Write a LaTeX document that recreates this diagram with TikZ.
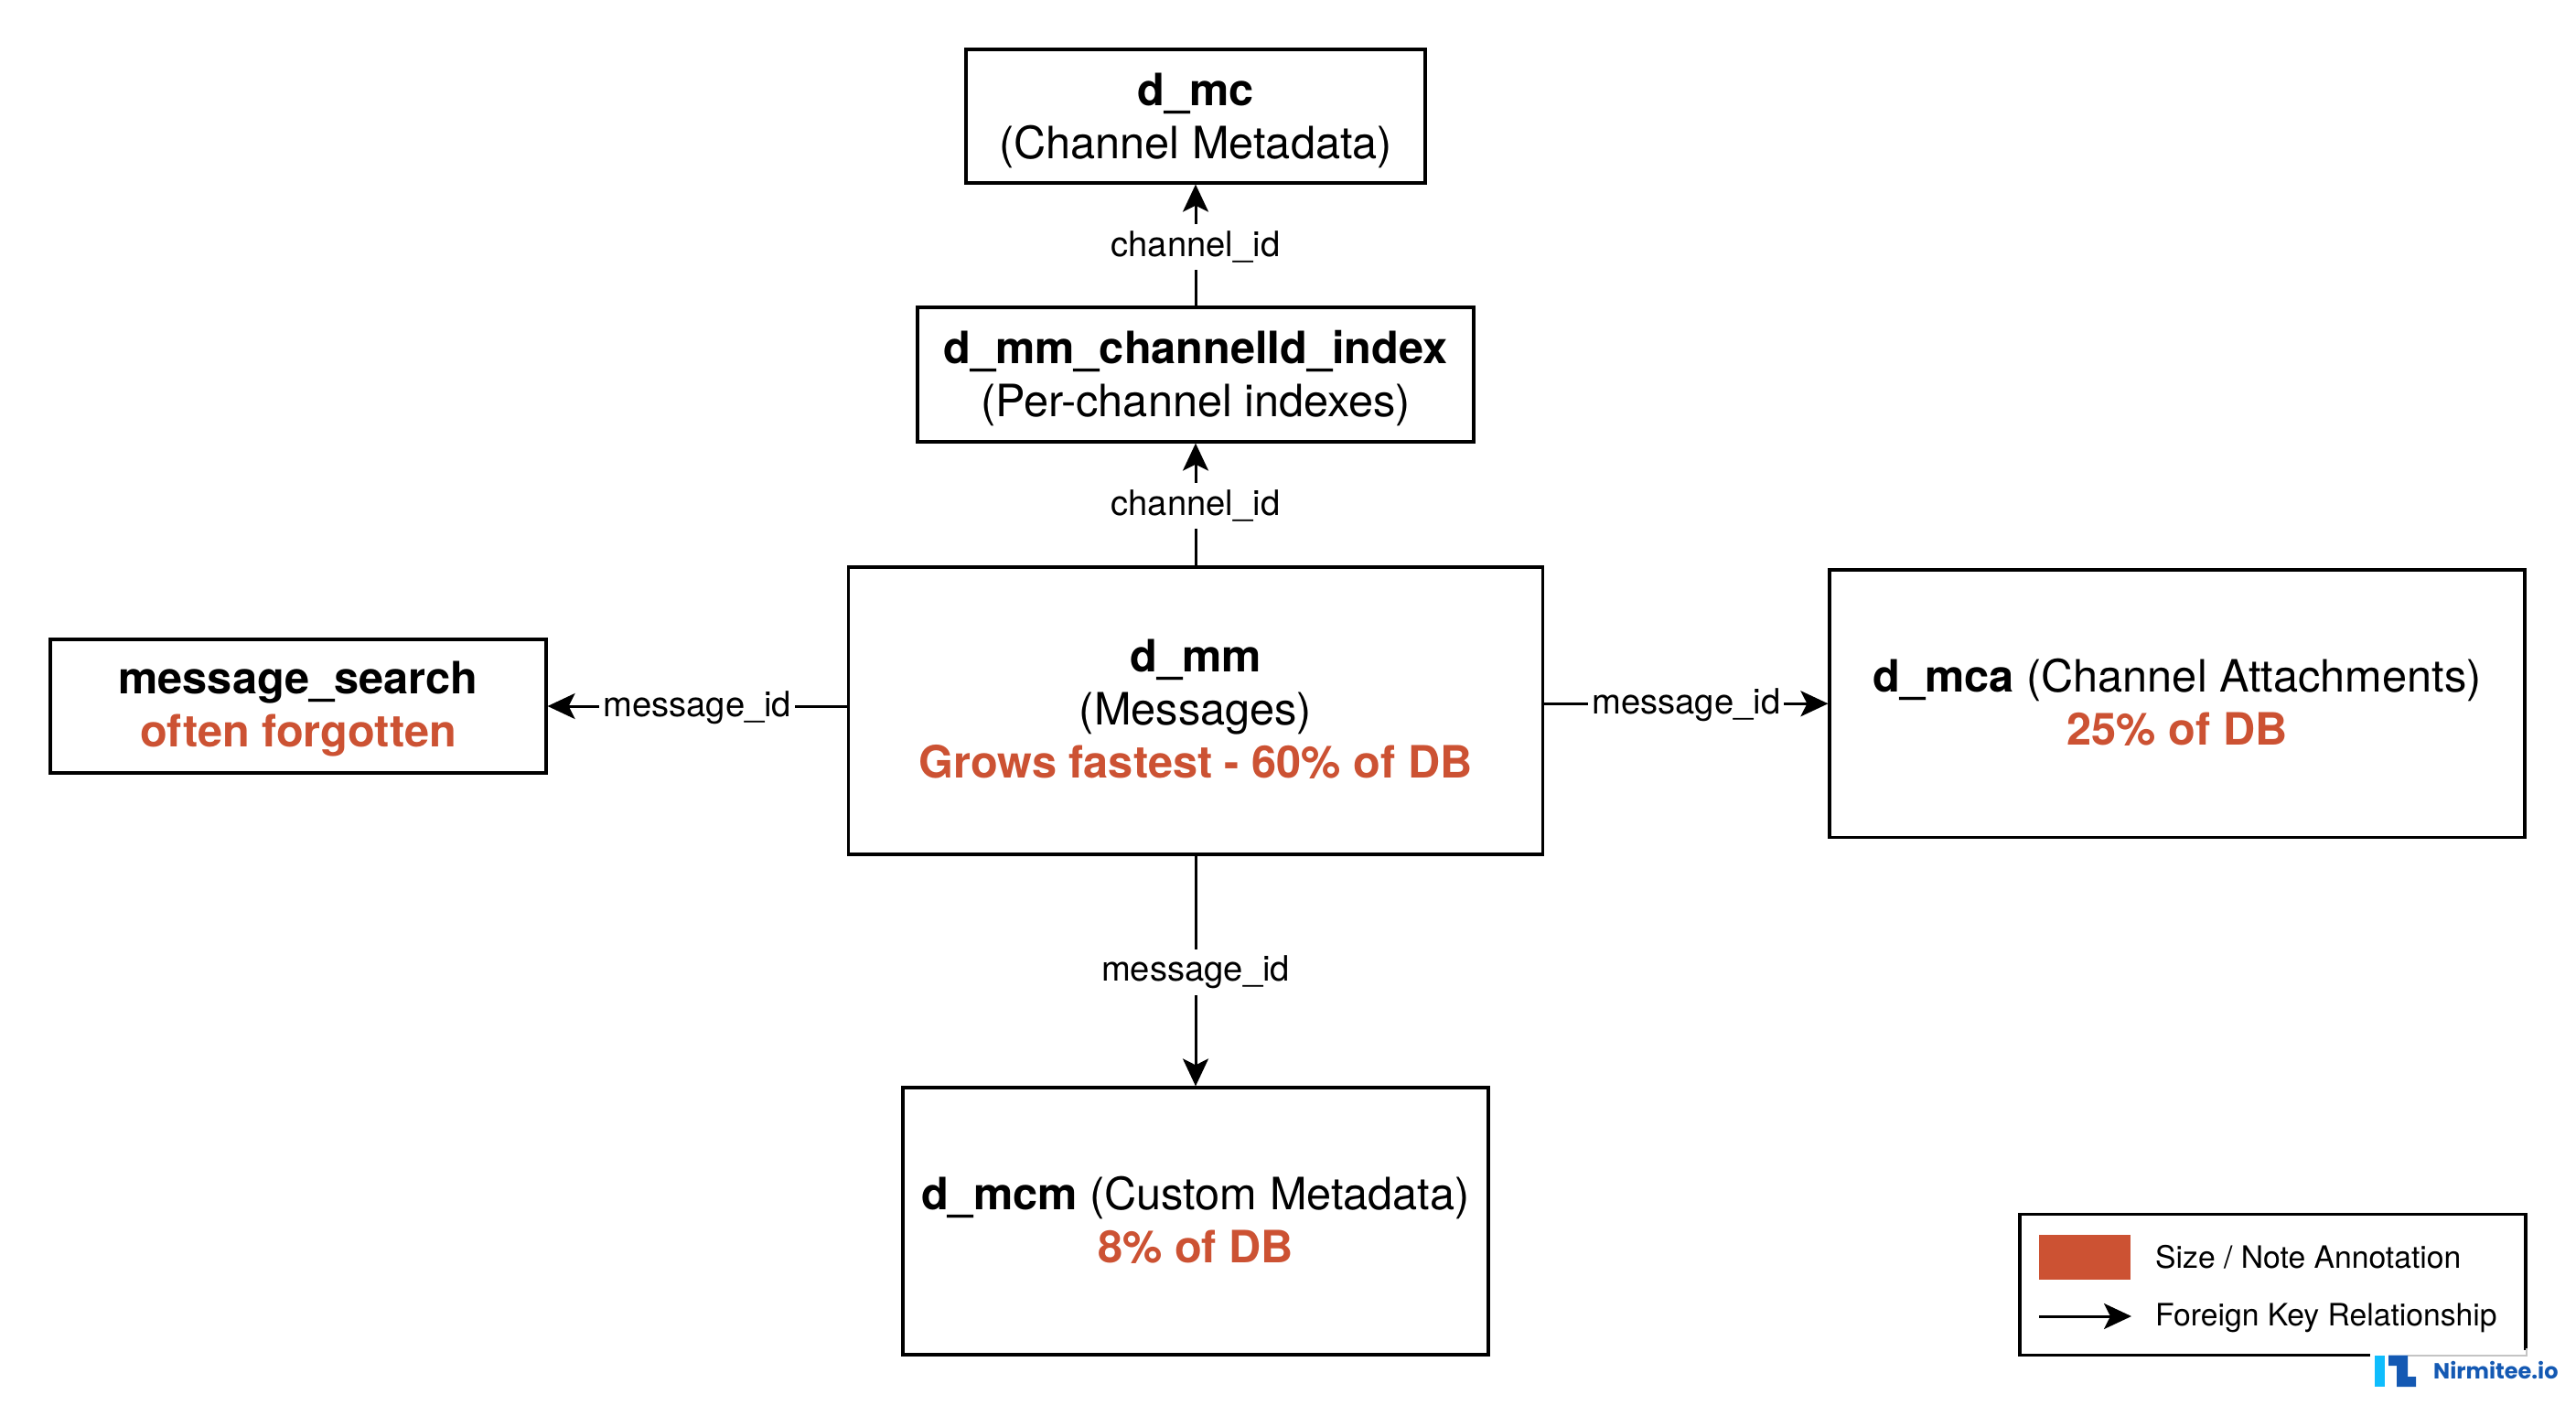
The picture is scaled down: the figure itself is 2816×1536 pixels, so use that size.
\documentclass[tikz,border=0pt]{standalone}
\usepackage{fontspec}
\setmainfont{TeX Gyre Heros}
\newfontfamily\logofont{Poppins}
\usetikzlibrary{arrows.meta}
\definecolor{note}{HTML}{CC5233}
\definecolor{logodark}{HTML}{1459B3}
\definecolor{logolight}{HTML}{0FBDFD}
\definecolor{halo}{HTML}{C4C4C4}
\tikzset{
  x=1pt,y=-1pt,
  tbl/.style={draw=black,line width=3.2pt,fill=white,inner sep=0pt},
  boxtext/.style={align=center,inner sep=0pt,font=\fontsize{48.7}{58}\selectfont},
  fk/.style={draw=black,line width=3pt,-{Stealth[length=30pt,width=28pt,inset=7pt]}},
  fklabel/.style={fill=white,inner xsep=4pt,inner ysep=0pt,minimum height=50pt,
    font=\fontsize{38.2}{46}\selectfont},
  legendtext/.style={anchor=west,inner sep=0pt,font=\fontsize{33.7}{40}\selectfont},
  legendbox/.style={draw=black,line width=3.2pt,fill=white,inner sep=0pt},
  logotext/.style={anchor=west,inner sep=0pt,text=logodark,font=\logofont\fontsize{24}{30}\selectfont\bfseries},
}
\newcommand{\nt}[1]{\textcolor{note}{\bfseries #1}}
\begin{document}
\begin{tikzpicture}
\useasboundingbox (0,0) rectangle (2816,1536);
\node[tbl,minimum width=502pt,minimum height=146pt,label={[boxtext,yshift=-5pt]center:{\textbf{d\_mc}\\(Channel Metadata)}}] (mc) at (1307,127) {};
\node[tbl,minimum width=608pt,minimum height=147pt,label={[boxtext,yshift=-4pt]center:{\textbf{d\_mm\_channelId\_index}\\(Per-channel indexes)}}] (idx) at (1307,409.5) {};
\node[tbl,minimum width=759pt,minimum height=314pt,label={[boxtext,yshift=2pt]center:{\textbf{d\_mm}\\(Messages)\\\nt{Grows fastest - 60\% of DB}}}] (mm) at (1307,777) {};
\node[tbl,minimum width=760pt,minimum height=292.5pt,label={[boxtext,yshift=1pt]center:{\textbf{d\_mca} (Channel Attachments)\\\nt{25\% of DB}}}] (mca) at (2380,769.25) {};
\node[tbl,minimum width=542pt,minimum height=146pt,label={[boxtext,yshift=-3.5pt]center:{\textbf{message\_search}\\\nt{often forgotten}}}] (ms) at (326,772) {};
\node[tbl,minimum width=640pt,minimum height=292pt,label={[boxtext,yshift=1pt]center:{\textbf{d\_mcm} (Custom Metadata)\\\nt{8\% of DB}}}] (mcm) at (1307,1335) {};
\draw[fk] (idx.north) -- node[fklabel,yshift=-1.5pt] {channel\_id} (mc.south);
\draw[fk] (mm.north) -- node[fklabel,yshift=-1.5pt] {channel\_id} (idx.south);
\draw[fk] (mm.south) -- node[fklabel,yshift=-1.5pt] {message\_id} (mcm.north);
\draw[fk] (ms.east -| mm.west) -- node[fklabel,yshift=-1.5pt] {message\_id} (ms.east);
\draw[fk] (mca.west -| mm.east) -- node[fklabel,yshift=-1.5pt] {message\_id} (mca.west);
% legend
\node[legendbox,minimum width=553pt,minimum height=153.5pt] (lg) at (2484.5,1404.5) {};
\node[fill=note,inner sep=0pt,minimum width=100pt,minimum height=49pt] (sw) at (2279,1374.5) {};
\node[legendtext] (l1) at (2356,1374) {Size / Note Annotation};
\node[legendtext] (l2) at (2356,1440.5) {Foreign Key Relationship};
\coordinate (a0) at (2229,1439);
\coordinate (a1) at (2330,1439);
\draw[fk] (a0) -- (a1);
% logo patch over the legend corner
\fill[white] (2591,1476) rectangle (2816,1536);
\draw[halo,line width=2pt] (2632,1482) -- (2761.5,1482) -- (2761.5,1474);
\fill[logolight] (2596,1481.5) rectangle (2607,1516);
\fill[logodark] (2611,1481.5) -- (2632,1481.5) -- (2632,1505) -- (2641,1505) -- (2641,1516) -- (2620,1516) -- (2620,1493) -- (2611,1493) -- cycle;
\node[logotext] (logo) at (2660,1497.5) {Nirmitee.io};
\end{tikzpicture}
\end{document}
